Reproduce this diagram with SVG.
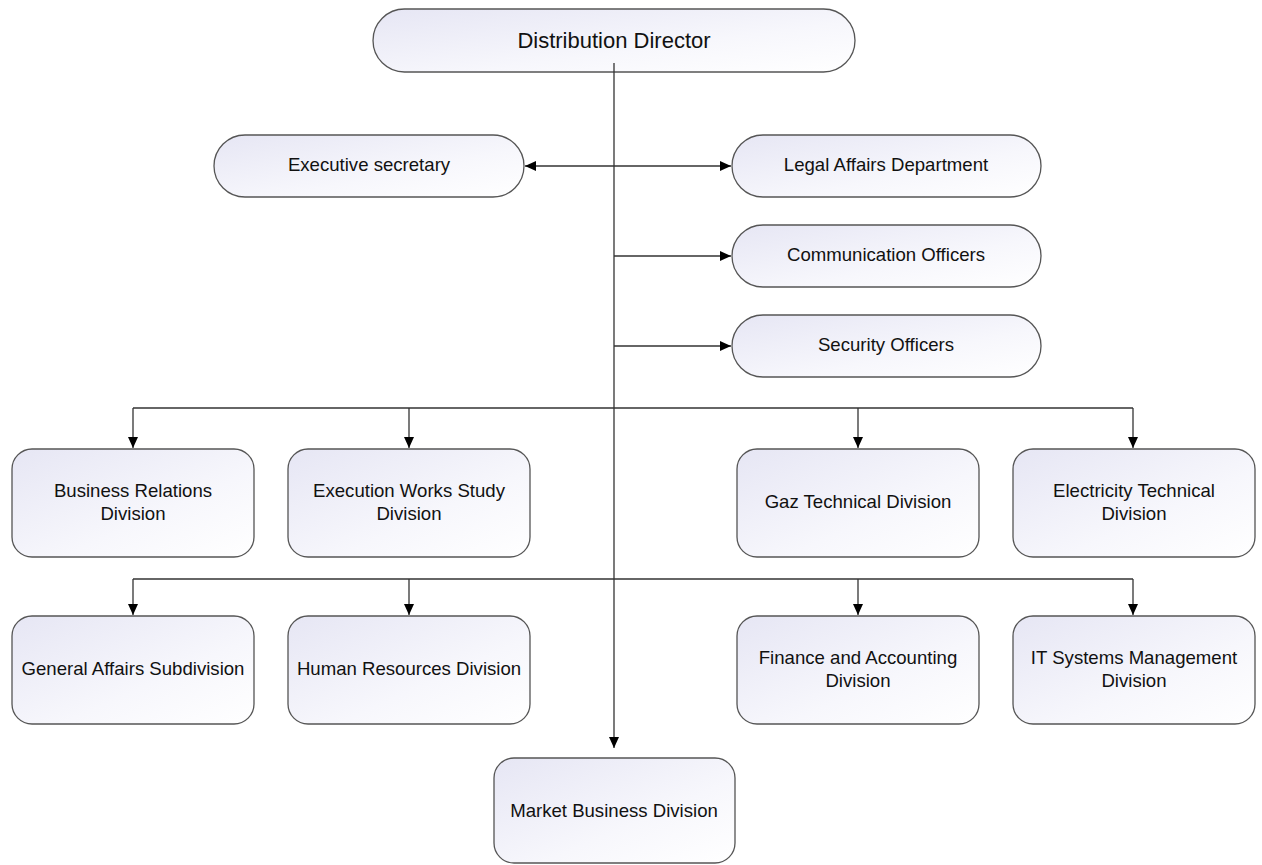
<svg xmlns="http://www.w3.org/2000/svg" width="1262" height="865" viewBox="0 0 1262 865">
<defs>
<linearGradient id="g" x1="0" y1="0" x2="1" y2="1">
<stop offset="0" stop-color="#e6e6f4"/>
<stop offset="0.6" stop-color="#f7f7fc"/>
<stop offset="1" stop-color="#ffffff"/>
</linearGradient>
<marker id="ah" markerWidth="12" markerHeight="10" refX="11" refY="5" orient="auto" markerUnits="userSpaceOnUse">
<path d="M0,0 L11,5 L0,10 Z" fill="#000"/>
</marker>
<marker id="as" markerWidth="12" markerHeight="10" refX="1" refY="5" orient="auto" markerUnits="userSpaceOnUse">
<path d="M12,0 L1,5 L12,10 Z" fill="#000"/>
</marker>
</defs>
<style>
rect{fill:url(#g);stroke:#555;stroke-width:1.3}
text{font-family:"Liberation Sans",Arial,sans-serif;font-size:18.6px;fill:#111;text-anchor:middle}
.c{fill:none;stroke:#333;stroke-width:1.3}
</style>
<rect width="1262" height="865" style="fill:#fff;stroke:none"/>
<g id="director"><rect x="373" y="9" width="482" height="63" rx="31.5"/><text x="614" y="48" style="font-size:22px">Distribution Director</text></g>
<g id="exec"><rect x="214" y="135" width="310" height="62" rx="31"/><text x="369" y="171">Executive secretary</text></g>
<g id="legal"><rect x="732" y="135" width="309" height="62" rx="31"/><text x="886" y="171">Legal Affairs Department</text></g>
<g id="comm"><rect x="732" y="225" width="309" height="62" rx="31"/><text x="886" y="261">Communication Officers</text></g>
<g id="security"><rect x="732" y="315" width="309" height="62" rx="31"/><text x="886" y="351">Security Officers</text></g>
<g id="business"><rect x="12" y="449" width="242" height="108" rx="20"/><text x="133" y="497">Business Relations</text><text x="133" y="520">Division</text></g>
<g id="execution"><rect x="288" y="449" width="242" height="108" rx="20"/><text x="409" y="497">Execution Works Study</text><text x="409" y="520">Division</text></g>
<g id="gaz"><rect x="737" y="449" width="242" height="108" rx="20"/><text x="858" y="508">Gaz Technical Division</text></g>
<g id="electricity"><rect x="1013" y="449" width="242" height="108" rx="20"/><text x="1134" y="497">Electricity Technical</text><text x="1134" y="520">Division</text></g>
<g id="general"><rect x="12" y="616" width="242" height="108" rx="20"/><text x="133" y="675">General Affairs Subdivision</text></g>
<g id="hr"><rect x="288" y="616" width="242" height="108" rx="20"/><text x="409" y="675">Human Resources Division</text></g>
<g id="finance"><rect x="737" y="616" width="242" height="108" rx="20"/><text x="858" y="664">Finance and Accounting</text><text x="858" y="687">Division</text></g>
<g id="it"><rect x="1013" y="616" width="242" height="108" rx="20"/><text x="1134" y="664">IT Systems Management</text><text x="1134" y="687">Division</text></g>
<g id="market"><rect x="494" y="758" width="241" height="105" rx="20"/><text x="614" y="817">Market Business Division</text></g>
<g id="connectors">
<path class="c" d="M614,63 V748" marker-end="url(#ah)"/>
<path class="c" d="M525,166 H731" marker-start="url(#as)" marker-end="url(#ah)"/>
<path class="c" d="M614,256 H731" marker-end="url(#ah)"/>
<path class="c" d="M614,346 H731" marker-end="url(#ah)"/>
<path class="c" d="M133,408 H1133"/>
<path class="c" d="M133,408 V448" marker-end="url(#ah)"/>
<path class="c" d="M409,408 V448" marker-end="url(#ah)"/>
<path class="c" d="M858,408 V448" marker-end="url(#ah)"/>
<path class="c" d="M1133,408 V448" marker-end="url(#ah)"/>
<path class="c" d="M133,579 H1133"/>
<path class="c" d="M133,579 V615" marker-end="url(#ah)"/>
<path class="c" d="M409,579 V615" marker-end="url(#ah)"/>
<path class="c" d="M858,579 V615" marker-end="url(#ah)"/>
<path class="c" d="M1133,579 V615" marker-end="url(#ah)"/>
</g>
</svg>
